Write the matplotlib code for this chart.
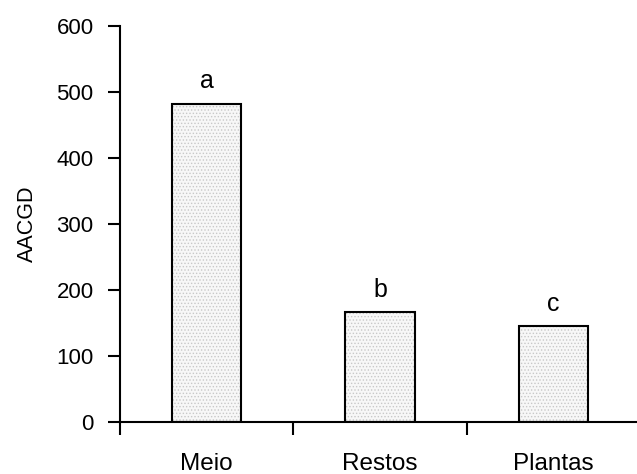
import numpy as np
import matplotlib
matplotlib.use("Agg")
from matplotlib import pyplot as plt

plt.rcParams['font.family'] = ['Liberation Sans', 'DejaVu Sans']
plt.rcParams['hatch.linewidth'] = 0.6

categories = ['Meio', 'Restos', 'Plantas']
values = [482, 166, 145]
letters = ['a', 'b', 'c']
yticks = [0, 100, 200, 300, 400, 500, 600]

fig = plt.figure(figsize=(6.37, 4.74), dpi=100)
# axes in pixel terms: spine at x=120, baseline y=422, top y=26
ax = fig.add_axes([120/637, 52/474, 520/637, 396/474])

x = np.arange(len(categories))
# stippled fill, then black outline
ax.bar(x, values, width=0.4, facecolor='#f7f7f7', edgecolor='#c8c8c8',
       hatch='.....', linewidth=0)
ax.bar(x, values, width=0.4, fill=False, edgecolor='black', linewidth=1.5)
for xi, v, l in zip(x, values, letters):
    ax.text(xi, v + 16, l, ha='center', va='bottom', fontsize=18)

ax.set_xlim(-0.5, 2.5)
ax.set_ylim(0, 600)
ax.set_yticks(yticks)
ax.set_xticks(x)
ax.set_xticklabels(categories)
ax.set_xticks([-0.5, 0.5, 1.5, 2.5], minor=True)
ax.tick_params(axis='x', which='major', length=0, pad=22, labelsize=17.5)
ax.tick_params(axis='x', which='minor', length=9, width=1.5, direction='out')
ax.tick_params(axis='y', length=9, width=1.5, direction='out', pad=10, labelsize=16)
ax.set_ylabel('AACGD', fontsize=15.5)
ax.yaxis.set_label_coords(-0.158, 0.5)

for s in ['top', 'right']:
    ax.spines[s].set_visible(False)
for s in ['left', 'bottom']:
    ax.spines[s].set_linewidth(1.5)

fig.savefig('out.png', dpi=100)
